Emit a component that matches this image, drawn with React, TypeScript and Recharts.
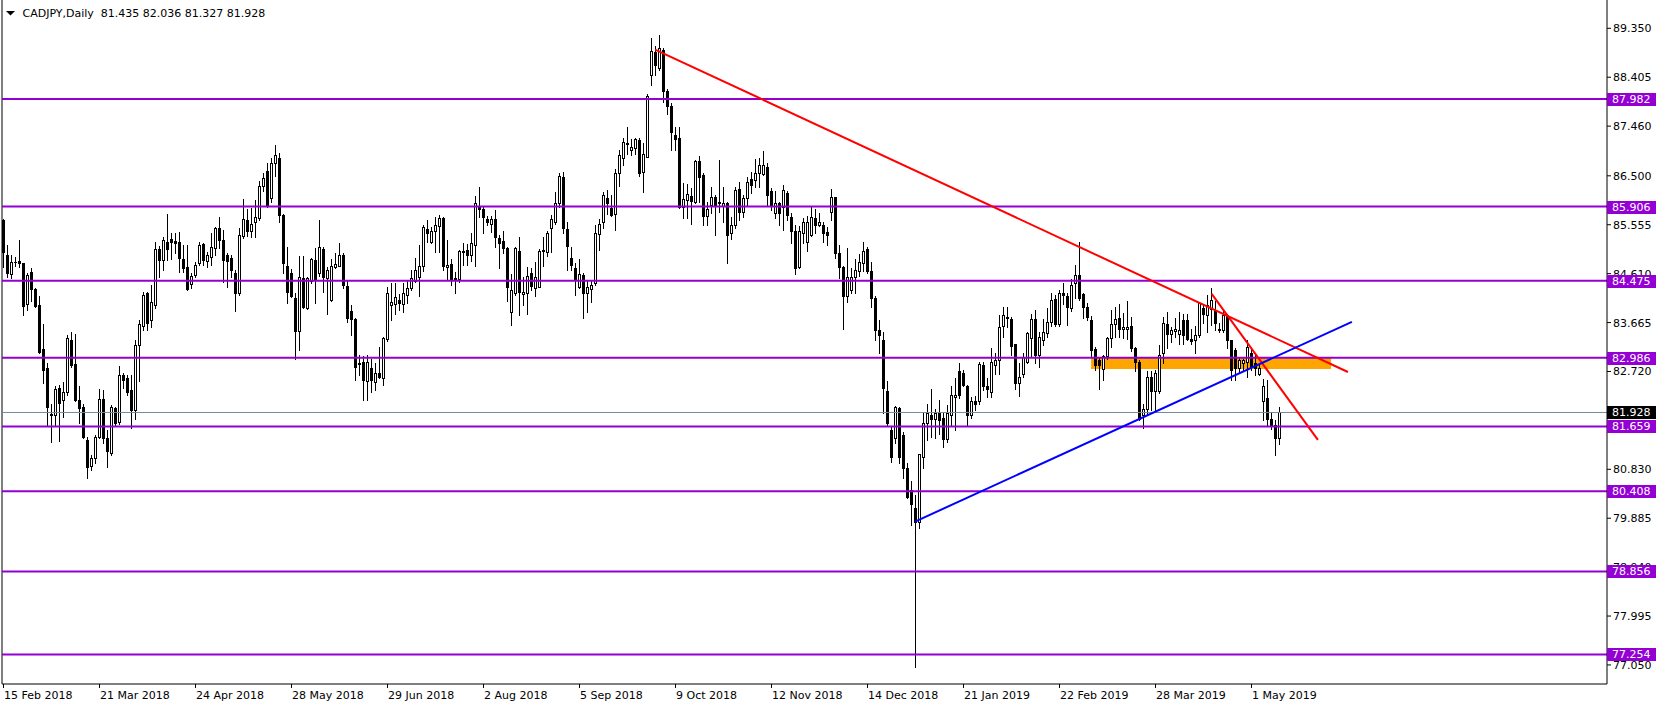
import React from 'react';
import { ComposedChart, Bar, XAxis, YAxis, ReferenceLine, ReferenceArea } from 'recharts';

const OPEN = [
  85.65, 84.97, 84.60, 84.83, 84.85, 84.81, 84.02, 84.64, 84.31, 84.00,
  83.15, 82.78, 81.90, 81.87, 82.41, 82.16, 82.32, 83.33, 82.86, 82.16,
  82.03, 81.40, 80.89, 81.04, 81.46, 82.18, 81.43, 81.14, 82.01, 81.74,
  82.65, 82.59, 82.36, 81.98, 83.23, 83.59, 84.23, 83.71, 84.00, 85.08,
  84.87, 85.23, 85.27, 85.25, 85.23, 84.89, 84.73, 84.41, 84.58, 84.81,
  85.18, 84.86, 84.94, 85.10, 85.49, 85.26, 84.97, 84.91, 84.62, 84.23,
  85.34, 85.65, 85.44, 85.61, 85.68, 86.30, 86.60, 86.08, 86.75, 86.85,
  85.74, 84.76, 84.62, 84.13, 83.51, 84.52, 83.94, 84.46, 84.87, 84.63,
  85.08, 84.52, 84.10, 84.73, 84.76, 84.97, 84.37, 83.89, 83.73, 82.89,
  82.91, 82.54, 82.78, 82.52, 82.70, 82.59, 83.34, 84.00, 84.02, 84.11,
  84.02, 84.20, 84.33, 84.46, 84.55, 84.76, 85.47, 85.23, 85.44, 85.53,
  85.68, 84.73, 84.79, 84.53, 84.50, 85.05, 85.07, 84.97, 85.16, 85.92,
  85.85, 85.66, 85.57, 85.66, 85.29, 85.24, 85.10, 83.86, 84.23, 85.05,
  84.21, 84.23, 84.63, 84.33, 84.36, 85.05, 85.02, 85.49, 85.61, 85.98,
  86.47, 85.47, 84.92, 84.71, 84.36, 84.58, 84.23, 84.31, 84.42, 85.37,
  85.61, 86.07, 85.87, 85.76, 86.55, 86.84, 87.12, 87.00, 87.03, 87.20,
  86.58, 86.87, 88.45, 88.90, 88.58, 88.93, 88.13, 87.84, 87.29, 87.24,
  85.90, 86.03, 86.11, 86.00, 86.79, 86.52, 85.72, 85.94, 86.10, 85.97,
  85.92, 85.97, 85.39, 85.55, 86.24, 85.81, 86.07, 86.43, 86.42, 86.55,
  86.54, 86.68, 86.21, 85.78, 85.97, 85.90, 86.16, 85.71, 85.44, 84.73,
  85.39, 85.23, 85.36, 85.68, 85.55, 85.55, 85.42, 85.81, 86.10, 85.00,
  84.73, 84.17, 84.29, 84.54, 84.67, 84.81, 85.08, 84.67, 84.13, 83.53,
  83.33, 82.35, 81.59, 81.43, 82.01, 81.49, 80.85, 80.43, 80.09, 79.82,
  81.07, 81.72, 81.88, 81.80, 81.91, 81.83, 81.41, 81.88, 82.23, 82.72,
  82.70, 82.44, 81.88, 82.14, 82.14, 82.84, 82.44, 82.33, 82.84, 82.94,
  83.59, 83.78, 83.73, 83.25, 82.50, 82.68, 82.91, 83.36, 83.73, 83.04,
  83.32, 83.47, 83.68, 84.12, 83.64, 84.24, 84.18, 83.94, 84.42, 84.58,
  84.22, 83.96, 83.71, 83.15, 82.94, 82.76, 83.01, 83.36, 83.64, 83.75,
  83.55, 83.54, 83.60, 83.17, 82.91, 81.88, 81.99, 82.62, 82.35, 82.35,
  83.07, 83.64, 83.44, 83.51, 83.44, 83.71, 83.71, 83.34, 83.33, 83.42,
  83.94, 83.81, 83.92, 83.91, 83.55, 83.52, 83.81, 83.32, 83.14, 82.78,
  82.89, 82.91, 83.07, 82.89, 82.68, 82.14, 82.20, 81.80, 81.69, 81.435,
];

const HIGH = [
  85.66, 85.16, 84.97, 84.94, 85.26, 84.82, 84.62, 84.71, 84.33, 84.18,
  83.64, 82.88, 82.10, 82.43, 82.46, 82.52, 83.42, 83.49, 83.44, 82.43,
  82.10, 81.46, 81.11, 81.49, 82.39, 82.36, 81.59, 82.07, 82.04, 82.83,
  82.70, 82.65, 82.65, 83.33, 83.71, 84.26, 84.26, 84.39, 85.23, 85.14,
  85.32, 85.76, 85.39, 85.40, 85.42, 85.16, 85.16, 84.62, 84.84, 85.23,
  85.21, 85.03, 85.39, 85.52, 85.71, 85.45, 85.00, 84.97, 84.68, 85.49,
  86.05, 85.85, 85.87, 86.03, 86.40, 86.55, 86.75, 86.85, 87.10, 86.95,
  85.76, 85.12, 84.70, 84.23, 84.95, 84.95, 84.54, 84.92, 85.10, 85.65,
  85.13, 84.74, 84.89, 85.01, 85.20, 85.00, 84.47, 84.00, 83.75, 83.04,
  83.02, 83.04, 82.97, 82.88, 83.19, 83.39, 84.36, 84.42, 84.42, 84.21,
  84.42, 84.49, 84.68, 84.91, 85.16, 85.55, 85.65, 85.52, 85.70, 85.74,
  85.71, 85.26, 84.89, 84.65, 85.07, 85.21, 85.18, 85.39, 86.11, 86.29,
  85.91, 85.72, 85.72, 85.84, 85.36, 85.44, 85.13, 84.60, 85.12, 85.31,
  84.54, 84.74, 84.71, 84.84, 85.08, 85.32, 85.44, 85.74, 86.19, 86.55,
  86.57, 85.61, 85.12, 84.82, 84.89, 84.63, 84.49, 84.47, 85.55, 85.66,
  86.18, 86.23, 86.13, 86.63, 87.00, 87.24, 87.44, 87.22, 87.24, 87.24,
  87.13, 88.08, 89.16, 89.00, 89.22, 88.96, 88.17, 87.90, 87.45, 87.45,
  86.37, 86.35, 86.26, 86.81, 86.88, 86.55, 86.00, 86.28, 86.13, 86.81,
  86.29, 86.00, 85.71, 86.29, 86.39, 86.13, 86.48, 86.58, 86.82, 86.84,
  86.97, 86.75, 86.26, 86.21, 86.00, 86.32, 86.21, 85.78, 85.55, 85.53,
  85.69, 85.72, 85.89, 85.85, 85.78, 85.61, 85.52, 86.24, 86.10, 85.16,
  84.75, 85.10, 84.71, 84.89, 84.99, 85.23, 85.12, 84.84, 84.17, 83.71,
  83.49, 82.54, 81.65, 82.05, 82.03, 81.56, 80.95, 80.61, 80.33, 81.13,
  81.92, 82.10, 82.39, 82.00, 82.17, 81.91, 82.07, 82.43, 82.59, 82.89,
  82.75, 82.46, 82.23, 82.25, 82.91, 82.91, 82.59, 83.17, 83.08, 83.81,
  83.97, 83.97, 83.78, 83.26, 82.88, 83.07, 83.49, 83.84, 83.91, 83.49,
  83.73, 83.94, 84.23, 84.20, 84.29, 84.42, 84.23, 84.50, 84.78, 85.23,
  84.24, 84.05, 83.79, 83.20, 83.00, 83.04, 83.39, 83.91, 83.96, 84.02,
  83.85, 84.09, 83.77, 83.20, 82.95, 82.10, 82.72, 82.72, 82.75, 83.23,
  83.77, 83.86, 83.58, 83.75, 83.86, 83.84, 83.83, 83.55, 83.59, 84.07,
  84.02, 84.20, 84.34, 84.09, 83.65, 83.88, 83.84, 83.33, 83.17, 83.00,
  82.97, 83.33, 83.17, 83.07, 82.85, 82.57, 82.55, 81.93, 81.78, 82.036,
];

const LOW = [
  84.74, 84.54, 84.52, 84.76, 84.73, 83.81, 83.90, 84.09, 83.97, 83.08,
  82.49, 81.69, 81.36, 81.69, 81.38, 81.85, 82.27, 82.81, 82.14, 81.73,
  81.44, 80.66, 80.82, 80.95, 81.43, 81.33, 80.88, 81.11, 81.69, 81.71,
  82.40, 82.27, 81.62, 81.80, 82.54, 83.52, 83.52, 83.57, 83.94, 84.55,
  84.68, 84.87, 84.89, 85.00, 84.65, 84.65, 84.29, 84.33, 84.54, 84.78,
  84.78, 84.73, 84.78, 84.97, 85.10, 84.45, 84.36, 84.54, 83.88, 84.20,
  85.29, 85.33, 85.31, 85.31, 85.65, 86.20, 85.90, 86.00, 86.50, 85.60,
  84.62, 84.04, 84.16, 82.97, 83.13, 83.95, 83.92, 84.43, 84.04, 84.56,
  84.26, 83.84, 84.09, 84.71, 84.75, 84.33, 83.68, 83.42, 82.55, 82.65,
  82.17, 82.17, 82.33, 82.36, 82.60, 82.46, 83.30, 83.71, 83.84, 83.91,
  83.86, 84.04, 84.29, 84.44, 84.18, 84.67, 85.23, 85.21, 85.03, 85.03,
  84.68, 84.50, 84.39, 84.24, 84.44, 84.78, 84.78, 84.86, 84.75, 85.71,
  85.39, 85.55, 85.42, 85.13, 84.71, 85.00, 84.09, 83.62, 84.20, 83.81,
  84.00, 83.84, 84.29, 84.18, 84.35, 84.76, 84.95, 85.02, 85.57, 85.89,
  85.39, 84.68, 84.69, 84.20, 84.34, 83.75, 83.86, 84.07, 84.39, 85.07,
  85.49, 85.76, 85.72, 85.45, 86.31, 86.70, 86.92, 86.90, 86.93, 86.50,
  86.19, 86.86, 88.25, 88.45, 88.55, 87.93, 87.69, 86.99, 87.00, 85.87,
  85.68, 85.68, 85.57, 85.97, 86.00, 85.55, 85.55, 85.79, 85.36, 85.81,
  85.61, 84.82, 85.27, 85.50, 85.65, 85.71, 85.94, 86.16, 86.29, 86.29,
  86.52, 85.94, 85.84, 85.68, 85.55, 85.45, 85.65, 85.21, 84.60, 84.71,
  85.21, 85.05, 85.34, 85.39, 85.53, 85.23, 85.16, 85.65, 84.91, 84.52,
  83.55, 84.07, 84.23, 84.23, 84.57, 84.67, 84.63, 83.96, 83.33, 83.07,
  81.91, 81.69, 80.98, 81.33, 80.95, 80.66, 80.27, 79.75, 77.01, 79.69,
  80.85, 81.40, 81.46, 81.43, 81.52, 81.27, 81.36, 81.69, 81.59, 82.20,
  82.43, 81.69, 81.83, 81.98, 82.10, 82.37, 82.23, 82.23, 82.68, 82.68,
  83.39, 83.58, 83.04, 82.38, 82.25, 82.62, 82.88, 83.01, 82.89, 82.80,
  83.23, 83.39, 83.59, 83.60, 83.59, 84.02, 83.62, 83.89, 84.13, 84.10,
  83.75, 83.71, 83.00, 82.75, 82.39, 82.56, 82.97, 83.20, 83.39, 83.39,
  83.36, 83.34, 83.12, 82.73, 81.79, 81.62, 81.88, 81.98, 81.98, 82.30,
  82.89, 83.17, 83.28, 83.38, 83.26, 83.26, 83.33, 83.26, 83.08, 83.38,
  83.65, 83.49, 83.62, 83.52, 83.49, 83.49, 83.17, 82.55, 82.55, 82.70,
  82.75, 82.62, 82.75, 82.65, 82.65, 81.78, 81.69, 81.60, 81.11, 81.327,
];

const CLOSE = [
  85.02, 84.62, 84.83, 84.84, 84.82, 83.99, 84.58, 84.31, 83.99, 83.10,
  82.75, 82.03, 81.88, 82.39, 82.12, 82.32, 83.36, 82.85, 82.16, 82.01,
  81.46, 80.88, 81.04, 81.46, 82.18, 81.43, 81.19, 82.04, 81.72, 82.65,
  82.55, 82.33, 81.98, 83.23, 83.63, 84.20, 83.65, 84.06, 85.08, 84.87,
  85.26, 85.08, 85.23, 85.21, 84.91, 84.71, 84.31, 84.56, 84.77, 85.16,
  84.87, 84.98, 85.12, 85.49, 85.26, 84.87, 84.86, 84.68, 84.24, 85.36,
  85.66, 85.44, 85.56, 85.70, 86.30, 86.45, 85.94, 86.75, 86.90, 85.74,
  84.81, 84.26, 84.18, 83.51, 84.55, 83.97, 84.52, 84.89, 84.50, 85.12,
  84.55, 84.68, 84.75, 84.79, 84.97, 84.39, 83.76, 83.73, 82.81, 82.86,
  82.55, 82.91, 82.56, 82.70, 82.62, 83.36, 84.23, 84.07, 84.15, 84.04,
  84.24, 84.33, 84.52, 84.68, 84.75, 85.52, 85.39, 85.44, 85.55, 85.68,
  84.75, 84.78, 84.50, 84.50, 85.05, 85.03, 84.97, 85.20, 85.97, 85.86,
  85.70, 85.61, 85.66, 85.31, 85.20, 85.11, 84.36, 84.29, 85.10, 84.26,
  84.26, 84.56, 84.37, 84.54, 85.05, 85.07, 85.39, 85.66, 85.98, 86.50,
  85.50, 85.14, 84.78, 84.50, 84.60, 84.24, 84.35, 84.40, 85.39, 85.56,
  86.13, 85.97, 85.74, 86.55, 86.91, 87.16, 87.13, 87.06, 87.21, 86.56,
  86.93, 88.04, 88.92, 88.64, 88.96, 88.13, 87.84, 87.35, 87.22, 85.89,
  86.05, 86.15, 86.02, 86.79, 86.48, 85.72, 85.85, 86.10, 85.94, 85.99,
  85.98, 85.36, 85.55, 86.22, 85.81, 86.08, 86.39, 86.32, 86.56, 86.70,
  86.70, 86.13, 85.94, 85.97, 85.78, 86.22, 85.74, 85.44, 84.71, 85.44,
  85.61, 85.61, 85.70, 85.55, 85.61, 85.40, 85.36, 86.10, 85.00, 84.73,
  84.18, 84.55, 84.54, 84.68, 84.83, 85.05, 84.67, 84.13, 83.53, 83.43,
  82.40, 81.72, 81.07, 82.03, 81.07, 80.85, 80.30, 80.15, 79.82, 81.12,
  81.72, 81.91, 81.80, 81.91, 81.78, 81.41, 81.91, 82.27, 82.27, 82.27,
  82.46, 81.88, 82.14, 82.09, 82.86, 82.43, 82.39, 82.91, 82.94, 83.57,
  83.81, 83.75, 83.21, 82.50, 82.62, 83.00, 83.46, 83.73, 83.04, 83.38,
  83.49, 83.68, 84.10, 83.64, 84.23, 84.20, 83.96, 84.39, 84.58, 84.13,
  83.97, 83.78, 83.13, 82.85, 82.85, 83.01, 83.36, 83.64, 83.73, 83.55,
  83.58, 83.58, 83.17, 82.91, 81.81, 82.00, 82.62, 82.35, 82.70, 83.04,
  83.66, 83.44, 83.52, 83.55, 83.52, 83.42, 83.34, 83.31, 83.42, 84.04,
  83.83, 84.00, 84.10, 83.65, 83.52, 83.81, 83.33, 82.75, 82.78, 82.94,
  82.95, 83.20, 82.81, 82.78, 82.78, 82.43, 81.81, 81.69, 81.43, 81.928,
];

const DATE_TICKS = [0, 24, 48, 72, 96, 120, 144, 168, 192, 216, 240, 264, 288, 312];
const DATE_LABELS = [
  '15 Feb 2018', '21 Mar 2018', '24 Apr 2018', '28 May 2018', '29 Jun 2018',
  '2 Aug 2018', '5 Sep 2018', '9 Oct 2018', '12 Nov 2018', '14 Dec 2018',
  '21 Jan 2019', '22 Feb 2019', '28 Mar 2019', '1 May 2019',
];
const PRICE_TICKS = [89.35, 88.405, 87.46, 86.5, 85.555, 84.61, 83.665, 82.72, 80.83, 79.885, 78.94, 77.995, 77.05];

// horizontal support / resistance levels
const LEVELS = [87.982, 85.906, 84.475, 82.986, 81.659, 80.408, 78.856, 77.254];
const LAST_PRICE = 81.928;

// drawn objects (x in bar units, y in price)
const RED_LONG = [{ x: 162.9, y: 88.94 }, { x: 336.1, y: 82.71 }];
const RED_SHORT = [{ x: 302.05, y: 84.22 }, { x: 328.6, y: 81.4 }];
const BLUE_LINE = [{ x: 227.9, y: 79.82 }, { x: 337.1, y: 83.68 }];
const ZONE = { x1: 271.9, x2: 331.9, y1: 82.77, y2: 82.986 };

const X_DOMAIN: [number, number] = [-0.375, 400.875];
const Y_DOMAIN: [number, number] = [76.682, 89.897];

const FONT = "'DejaVu Sans', Tahoma, sans-serif";
const PURPLE = '#9400D3';

const data = OPEN.map((o, i) => ({
  i,
  open: o,
  high: HIGH[i],
  low: LOW[i],
  close: CLOSE[i],
  range: [LOW[i], HIGH[i]],
}));

// plain ticks first, price tags last so the tags sit on top of the tick labels
const AXIS_TICKS = [...PRICE_TICKS, ...LEVELS, LAST_PRICE];

function Candle(props: any) {
  const { x, y, width, height, payload } = props;
  if (!payload || x == null || y == null) return null;
  const { open, high, low, close } = payload;
  const top = Math.min(y, y + height);
  const span = Math.abs(height);
  const toY = (p: number) => (high === low ? top : top + ((high - p) / (high - low)) * span);
  const cx = Math.floor(x + width / 2) + 0.5;
  const bTop = Math.round(toY(Math.max(open, close))) + 0.5;
  const bBot = Math.round(toY(Math.min(open, close))) + 0.5;
  const bull = close >= open;
  return (
    <g>
      <line x1={cx} x2={cx} y1={Math.round(top)} y2={Math.round(top + span) + 1} stroke="#000" strokeWidth={1} />
      {bBot - bTop < 1 ? (
        <line x1={cx - 1.5} x2={cx + 1.5} y1={bTop} y2={bTop} stroke="#000" strokeWidth={1} />
      ) : (
        <rect x={cx - 1} y={bTop} width={2} height={bBot - bTop} fill={bull ? '#fff' : '#000'} stroke="#000" strokeWidth={1} />
      )}
    </g>
  );
}

const PriceTick = (props: any) => {
  const { x, y, payload } = props;
  const v = Number(payload.value);
  const isLast = v === LAST_PRICE;
  if (isLast || LEVELS.includes(v)) {
    const cy = Math.round(y);
    return (
      <g>
        <rect x={x - 6} y={cy - 6} width={49} height={13} fill={isLast ? '#000' : PURPLE} />
        <text x={x - 1} y={cy + 4} textAnchor="start" fontSize={11} fontFamily={FONT} fill="#fff">
          {v.toFixed(3)}
        </text>
      </g>
    );
  }
  return (
    <text x={x} y={y + 4} textAnchor="start" fontSize={11} fontFamily={FONT} fill="#000">
      {v.toFixed(3)}
    </text>
  );
};

const DateTick = (props: any) => {
  const { x, y, payload } = props;
  const k = DATE_TICKS.indexOf(payload.value);
  return (
    <text x={x + 0.5} y={y + 9} textAnchor="start" fontSize={11} fontFamily={FONT} fill="#000">
      {DATE_LABELS[k]}
    </text>
  );
};

export default function App() {
  return (
    <div style={{ position: 'fixed', left: 0, top: 0, width: 1662, height: 708, background: '#fff' }}>
      <ComposedChart width={1662} height={708} data={data} margin={{ top: 0, right: 0, bottom: 0, left: 2 }}>
        <XAxis
          type="number"
          dataKey="i"
          domain={X_DOMAIN}
          allowDataOverflow
          ticks={DATE_TICKS}
          interval={0}
          height={24}
          tickSize={4}
          tickMargin={2}
          stroke="#000"
          tick={<DateTick />}
        />
        <YAxis
          orientation="right"
          type="number"
          domain={Y_DOMAIN}
          allowDataOverflow
          ticks={AXIS_TICKS}
          interval={0}
          width={55}
          tickSize={4}
          tickMargin={2}
          stroke="#000"
          tick={<PriceTick />}
        />
        <ReferenceArea x1={ZONE.x1} x2={ZONE.x2} y1={ZONE.y1} y2={ZONE.y2} fill="#FFA500" fillOpacity={1} stroke="none" />
        <ReferenceLine x={X_DOMAIN[0]} stroke="#000" strokeWidth={1} />
        <Bar dataKey="range" barSize={3} shape={<Candle />} isAnimationActive={false} />
        <ReferenceLine y={LAST_PRICE} stroke="#778899" strokeWidth={1} />
        {LEVELS.map((lv) => (
          <ReferenceLine key={lv} y={lv} stroke={PURPLE} strokeWidth={2} />
        ))}
        <ReferenceLine segment={RED_LONG} stroke="#FF0000" strokeWidth={2} />
        <ReferenceLine segment={RED_SHORT} stroke="#FF0000" strokeWidth={2} />
        <ReferenceLine segment={BLUE_LINE} stroke="#0000FF" strokeWidth={2} />
      </ComposedChart>
      <svg width={300} height={22} style={{ position: 'absolute', left: 0, top: 0 }}>
        <polygon points="6,11 15,11 10.5,15.5" fill="#000" />
        <text x={22.5} y={17} fontSize={11} fontFamily={FONT} fill="#000" style={{ whiteSpace: 'pre' }}>
          {'CADJPY,Daily  81.435 82.036 81.327 81.928'}
        </text>
      </svg>
    </div>
  );
}
